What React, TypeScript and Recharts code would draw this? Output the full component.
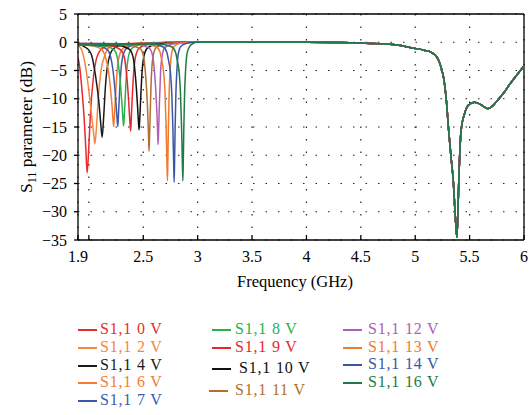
import React from 'react';
import { LineChart, Line, XAxis, YAxis, CartesianGrid, ReferenceLine } from 'recharts';

const xTicks = [1.9, 2, 2.5, 3, 3.5, 4, 4.5, 5, 5.5, 6];
const yTicks = [-35, -30, -25, -20, -15, -10, -5, 0, 5];

// common high-band response (3–6 GHz), shared by all bias voltages
const tail: [number, number][] = [
  [3.0, 0], [3.5, 0], [4.0, 0], [4.3, -0.05], [4.5, -0.15], [4.7, -0.3], [4.85, -0.55],
  [4.97, -1.0], [5.08, -1.4], [5.15, -1.8], [5.19, -2.4], [5.21, -3.0], [5.24, -4.6],
  [5.264, -6.6], [5.285, -10], [5.307, -15.5], [5.33, -20.5], [5.349, -24.3], [5.367, -30.3],
  [5.383, -34.5], [5.392, -30.3], [5.401, -24.3], [5.422, -15.5], [5.454, -12.6], [5.49, -11.1],
  [5.545, -10.6], [5.6, -11.0], [5.668, -11.75], [5.71, -11.3], [5.76, -10.2], [5.82, -8.8],
  [5.867, -7.5], [5.93, -5.9], [6.0, -4.2],
];

const v0: [number, number][] = [
  [1.9, -2.7], [1.915, -4.3], [1.933, -7.7], [1.957, -13.6], [1.972, -18.9], [1.984, -23.1],
  [2.0, -18.3], [2.015, -12.4], [2.04, -6.5], [2.07, -2.9], [2.117, -1.2], [2.2, -0.5],
  [2.4, -0.2], [2.7, -0.05], [2.95, 0],
];
const v2: [number, number][] = [
  [1.9, -0.6], [1.93, -1.2], [1.963, -3.6], [1.994, -7.7], [2.025, -13], [2.046, -16.5],
  [2.055, -18], [2.071, -14.7], [2.086, -10], [2.11, -5.2], [2.147, -2.3], [2.2, -0.8],
  [2.35, -0.3], [2.7, -0.05], [2.95, 0],
];
const v4: [number, number][] = [
  [1.9, -0.3], [1.96, -0.8], [2.0, -1.4], [2.025, -2.3], [2.061, -5.9], [2.092, -10.6],
  [2.11, -14.6], [2.122, -16.8], [2.135, -13.5], [2.153, -7.6], [2.177, -3.5], [2.223, -1.2],
  [2.3, -0.5], [2.5, -0.2], [2.95, 0],
];
const v6: [number, number][] = [
  [1.9, -0.4], [2.05, -0.7], [2.12, -1.3], [2.15, -2.5], [2.175, -4.5], [2.195, -7.5],
  [2.212, -11], [2.222, -13.8], [2.228, -14.9], [2.236, -12.5], [2.246, -9.2], [2.26, -5],
  [2.28, -2.4], [2.32, -1], [2.4, -0.4], [2.6, -0.1], [2.95, 0],
];
const v7: [number, number][] = [
  [1.9, -0.4], [2.1, -0.7], [2.17, -1.3], [2.2, -2.6], [2.222, -5], [2.238, -8],
  [2.252, -11.5], [2.261, -14], [2.266, -14.9], [2.273, -12.5], [2.282, -9], [2.296, -4.7],
  [2.315, -2.2], [2.35, -1], [2.43, -0.4], [2.65, -0.1], [2.95, 0],
];
const v8: [number, number][] = [
  [1.9, -0.5], [2.15, -0.7], [2.23, -1.3], [2.26, -2.6], [2.278, -5], [2.293, -8],
  [2.306, -11.5], [2.315, -14], [2.32, -14.8], [2.327, -12.5], [2.336, -9], [2.349, -4.8],
  [2.368, -2.2], [2.4, -1], [2.48, -0.4], [2.7, -0.1], [2.95, 0],
];
const v9: [number, number][] = [
  [1.9, -0.3], [2.2, -0.6], [2.29, -1.3], [2.325, -2.6], [2.343, -5], [2.358, -8.2],
  [2.37, -11.8], [2.379, -14.6], [2.384, -15.7], [2.391, -13], [2.4, -9.3], [2.413, -5],
  [2.432, -2.3], [2.465, -1], [2.54, -0.4], [2.75, -0.1], [2.95, 0],
];
const v10: [number, number][] = [
  [1.9, -0.3], [2.25, -0.5], [2.37, -1.2], [2.405, -2.5], [2.423, -5], [2.437, -8.2],
  [2.449, -11.8], [2.457, -14.5], [2.462, -15.5], [2.469, -13], [2.478, -9.2], [2.49, -5],
  [2.508, -2.3], [2.54, -1], [2.61, -0.4], [2.8, -0.1], [2.95, 0],
];
const v11: [number, number][] = [
  [1.9, -0.3], [2.35, -0.5], [2.47, -1.1], [2.5, -2.3], [2.518, -5], [2.531, -8.5],
  [2.541, -12.5], [2.548, -16.5], [2.553, -19.3], [2.559, -16], [2.566, -11], [2.576, -5.5],
  [2.592, -2.3], [2.62, -0.9], [2.69, -0.3], [2.85, -0.05], [2.95, 0],
];
const v12: [number, number][] = [
  [1.9, -0.2], [2.45, -0.4], [2.555, -1.1], [2.585, -2.3], [2.602, -5], [2.615, -8.5],
  [2.625, -12.3], [2.632, -15.8], [2.636, -18.1], [2.642, -15], [2.649, -10.5], [2.659, -5.3],
  [2.675, -2.2], [2.7, -0.9], [2.77, -0.3], [2.95, 0],
];
const v13: [number, number][] = [
  [1.9, -0.2], [2.5, -0.3], [2.62, -0.8], [2.655, -1.8], [2.672, -3.4], [2.688, -5.5],
  [2.7, -9], [2.71, -15], [2.717, -21], [2.722, -24.5], [2.726, -21], [2.731, -15],
  [2.738, -9], [2.747, -5], [2.76, -2], [2.785, -0.7], [2.84, -0.2], [2.95, 0],
];
const v14: [number, number][] = [
  [1.9, -0.2], [2.56, -0.3], [2.68, -0.8], [2.717, -1.8], [2.734, -3.4], [2.75, -5.3],
  [2.762, -9], [2.772, -15], [2.779, -21], [2.784, -24.8], [2.788, -21], [2.793, -15],
  [2.8, -9], [2.809, -5], [2.822, -2], [2.847, -0.7], [2.9, -0.2], [2.97, 0],
];
const v16: [number, number][] = [
  [1.9, -0.5], [2.64, -0.3], [2.76, -0.8], [2.797, -1.8], [2.814, -3.4], [2.83, -5.3],
  [2.842, -9], [2.852, -15], [2.859, -21], [2.864, -24.5], [2.868, -21], [2.873, -15],
  [2.88, -9], [2.889, -5], [2.902, -2], [2.927, -0.7], [2.96, -0.2], [2.99, 0],
];

const seriesNames = [
  'S1,1 0 V', 'S1,1 2 V', 'S1,1 4 V', 'S1,1 6 V', 'S1,1 7 V', 'S1,1 8 V', 'S1,1 9 V',
  'S1,1 10 V', 'S1,1 11 V', 'S1,1 12 V', 'S1,1 13 V', 'S1,1 14 V', 'S1,1 16 V',
];
const seriesLows = [v0, v2, v4, v6, v7, v8, v9, v10, v11, v12, v13, v14, v16];

// styling
const seriesColors = [
  '#ec2a2e', '#f4873c', '#1a1a1a', '#f47b34', '#3d59ab', '#2bb04a', '#e8262b',
  '#111111', '#b0702e', '#b25db5', '#f07b2e', '#3d55a5', '#1f7a45',
];
const legendLayout = [
  { lx: 78, tx: 100, y: 330 }, { lx: 78, tx: 100, y: 348 }, { lx: 78, tx: 100, y: 366 },
  { lx: 78, tx: 100, y: 383 }, { lx: 78, tx: 100, y: 401 },
  { lx: 212, tx: 235, y: 330 }, { lx: 212, tx: 235, y: 348 }, { lx: 212, tx: 239, y: 369 },
  { lx: 209, tx: 235, y: 391 },
  { lx: 343, tx: 368, y: 330 }, { lx: 343, tx: 368, y: 348 }, { lx: 343, tx: 368, y: 365 },
  { lx: 343, tx: 368, y: 383 },
];

const FONT = '"Times New Roman", Times, "Liberation Serif", "DejaVu Serif", serif';

const toRows = (pts: [number, number][]) => [...pts, ...tail].map(([f, s]) => ({ f, s }));

const XTick = (props: any) => {
  const { x, y, payload } = props;
  const v = payload.value;
  const label = v === 2 ? '' : String(v);
  return (
    <g>
      <line x1={x} x2={x} y1={y} y2={y - 5} stroke="#000" strokeWidth={1.3} />
      <text x={x} y={y + 22} textAnchor="middle" style={{ fontSize: 16, fontFamily: FONT }} fill="#000">
        {label}
      </text>
    </g>
  );
};

const YTick = (props: any) => {
  const { x, y, payload } = props;
  const v = payload.value;
  return (
    <text x={x} y={y + 5.5} textAnchor="end" style={{ fontSize: 16, fontFamily: FONT }} fill="#000">
      {v < 0 ? '\u2212' + Math.abs(v) : String(v)}
    </text>
  );
};

export default function App() {
  return (
    <div
      style={{
        position: 'absolute',
        left: 0,
        top: 0,
        width: 529,
        height: 415,
        background: '#fff',
        fontFamily: FONT,
      }}
    >
      <LineChart
        width={529}
        height={300}
        margin={{ top: 14, right: 5, bottom: 0, left: 0 }}
        style={{ fontFamily: FONT }}
      >
        <CartesianGrid stroke="#222" strokeDasharray="1.5 11" strokeWidth={1.2} />
        <XAxis
          dataKey="f"
          type="number"
          domain={[1.9, 6]}
          ticks={xTicks}
          allowDataOverflow
          height={60}
          stroke="#000"
          strokeWidth={1.3}
          tickLine={false}
          tickSize={0}
          tickMargin={0}
          tick={<XTick />}
          interval={0}
          label={{
            content: () => (
              <text x={295} y={287} textAnchor="middle" style={{ fontSize: 16.5, fontFamily: FONT }} fill="#000">
                Frequency (GHz)
              </text>
            ),
          }}
        />
        <YAxis
          type="number"
          domain={[-35, 5]}
          ticks={yTicks}
          allowDataOverflow
          width={78}
          stroke="#000"
          strokeWidth={1.3}
          tickSize={4}
          tickMargin={7}
          tick={<YTick />}
          interval={0}
          label={{
            content: (p: any) => {
              const vb = p.viewBox || { y: 14, height: 226 };
              const cx = 32;
              const cy = vb.y + vb.height / 2;
              return (
                <text
                  x={cx}
                  y={cy}
                  transform={`rotate(-90 ${cx} ${cy})`}
                  textAnchor="middle"
                  style={{ fontSize: 17.5, fontFamily: FONT }}
                  fill="#000"
                >
                  S<tspan style={{ fontSize: 12 }} dy={4}>11</tspan>
                  <tspan dy={-4}> parameter (dB)</tspan>
                </text>
              );
            },
          }}
        />
        <ReferenceLine y={5} stroke="#000" strokeWidth={1.3} ifOverflow="visible" />
        <ReferenceLine x={6} stroke="#000" strokeWidth={1.3} ifOverflow="visible" />
        {seriesLows.map((pts, i) => (
          <Line
            key={seriesNames[i]}
            data={toRows(pts)}
            dataKey="s"
            name={seriesNames[i]}
            type="monotone"
            stroke={seriesColors[i]}
            strokeWidth={1.5}
            dot={false}
            activeDot={false}
            isAnimationActive={false}
          />
        ))}
      </LineChart>
      {seriesNames.map((name, i) => {
        const l = legendLayout[i];
        return (
          <React.Fragment key={name}>
            <div
              style={{
                position: 'absolute',
                left: l.lx,
                top: l.y - 1,
                width: 19,
                height: 2,
                background: seriesColors[i],
              }}
            />
            <div
              style={{
                position: 'absolute',
                left: l.tx,
                top: l.y - 11,
                height: 20,
                lineHeight: '20px',
                fontSize: 16,
                fontFamily: FONT,
                letterSpacing: 0.8,
                color: seriesColors[i],
                whiteSpace: 'nowrap',
              }}
            >
              {name}
            </div>
          </React.Fragment>
        );
      })}
    </div>
  );
}
